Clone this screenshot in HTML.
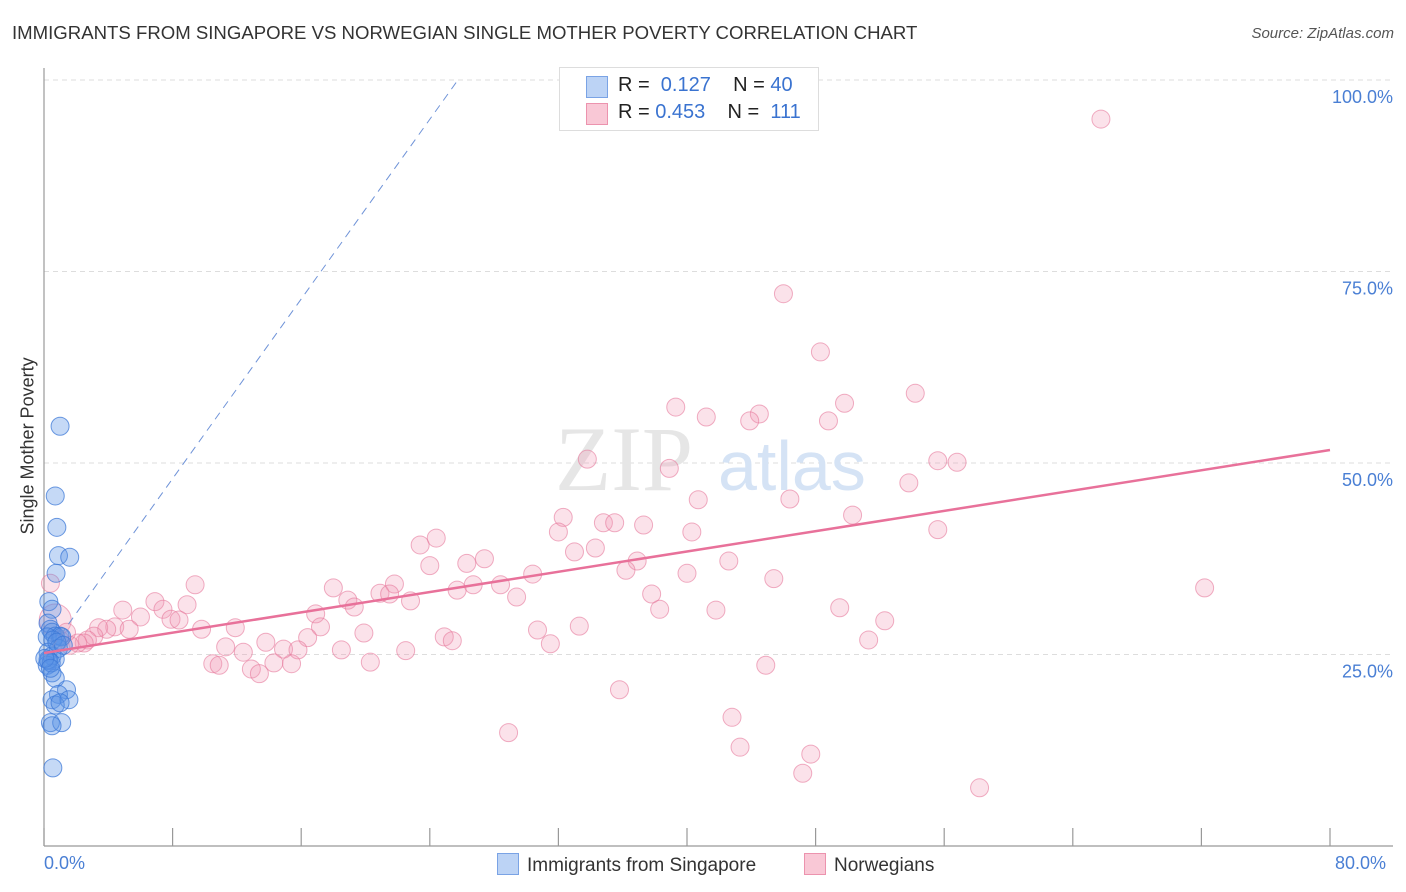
<!DOCTYPE html>
<html><head><meta charset="utf-8"><style>
body{margin:0;background:#fff;font-family:"Liberation Sans",sans-serif;}
#wrap{position:relative;width:1406px;height:892px;overflow:hidden;}
.t{position:absolute;white-space:nowrap;}
</style></head><body>
<div id="wrap">
<div class="t" style="left:12px;top:22px;font-size:18.6px;color:#333;">IMMIGRANTS FROM SINGAPORE VS NORWEGIAN SINGLE MOTHER POVERTY CORRELATION CHART</div>
<div class="t" style="right:12px;top:25px;font-size:15px;color:#555;font-style:italic;">Source: ZipAtlas.com</div>
<svg id="chart" width="1406" height="892" style="position:absolute;left:0;top:0"></svg>
</div>
<script>
const blueX=[1.0,0.7,0.8,0.9,1.6,0.75,0.3,0.5,0.25,0.4,0.5,0.7,1.0,0.2,1.1,0.55,0.9,0.25,0.5,0.7,0.3,0.2,0.5,0.7,1.4,0.9,0.5,1.55,0.7,1.0,0.4,1.1,0.5,0.55,0.25,0.45,0.05,0.4,0.8,1.2];
const blueY=[54.8,45.7,41.6,37.9,37.7,35.6,31.9,30.9,29.1,28.3,27.9,27.4,27.4,27.3,27.3,26.9,25.8,25.3,24.8,24.4,24.2,23.6,22.6,21.9,20.4,19.8,19.1,19.1,18.4,18.7,16.1,16.1,15.7,10.2,24.3,23.9,24.5,23.2,26.6,26.2];
const pinkX=[65.75,46.0,48.3,54.2,39.3,41.2,44.5,43.9,49.8,48.8,33.8,38.9,55.6,56.8,53.8,40.7,46.4,32.3,50.3,34.8,35.5,37.3,32.0,40.3,55.6,23.4,24.4,34.3,33.0,27.4,26.3,24.0,42.6,36.9,36.2,30.4,40.0,45.4,9.4,18.0,21.8,26.7,28.4,25.7,20.9,21.5,22.8,29.4,37.8,18.9,6.9,8.9,4.9,19.3,38.3,41.8,49.5,16.9,7.4,6.0,7.9,8.4,52.3,4.4,3.4,5.3,3.9,17.2,9.8,11.9,30.7,33.3,19.9,24.9,25.4,3.1,2.7,2.5,2.1,51.3,11.3,13.8,16.4,31.5,12.4,14.9,15.8,18.5,22.5,10.5,10.9,14.3,15.4,12.9,13.4,20.3,44.9,35.8,42.8,28.9,43.3,47.7,47.2,58.2,72.2,0.4,0.7,1.0,1.6,1.4];
const pinkY=[94.9,72.1,64.5,59.1,57.3,56.0,56.4,55.5,57.8,55.5,50.5,49.3,50.3,50.1,47.4,45.2,45.3,42.9,43.2,42.2,42.2,41.9,41.0,41.0,41.3,39.3,40.2,38.9,38.4,37.5,36.9,36.6,37.2,37.2,36.0,35.5,35.6,34.9,34.1,33.7,34.2,34.1,34.1,33.4,33.0,32.9,32.0,32.5,32.9,32.1,31.9,31.5,30.8,31.2,30.9,30.8,31.1,30.3,30.9,29.9,29.6,29.5,29.4,28.6,28.5,28.3,28.3,28.6,28.3,28.5,28.2,28.7,27.8,27.3,26.8,27.4,26.9,26.5,26.5,26.9,26.0,26.6,27.2,26.4,25.3,25.7,25.6,25.6,25.5,23.8,23.6,23.9,23.8,23.1,22.5,24.0,23.6,20.4,16.8,14.8,12.9,12.0,9.5,7.6,33.7,34.3,29.5,26.9,26.2,27.9];
const yTicks=[25,50,75,100];
const yTickLabels=["25.0%","50.0%","75.0%","100.0%"];
const xTicks=[0,8,16,24,32,40,48,56,64,72,80];
const pinkTrend=[[0,25.2],[80,51.7]];
const blueTrend=[[0,24.5],[25.75,100]];

const svg=document.getElementById('chart');
const NS='http://www.w3.org/2000/svg';
const X0=44,X1=1330,Y0=846,YS=7.66;
const sx=v=>X0+v*(X1-X0)/80;
const sy=v=>Y0-v*YS;
function mk(tag,attrs){const e=document.createElementNS(NS,tag);for(const k in attrs)e.setAttribute(k,attrs[k]);svg.appendChild(e);return e;}

yTicks.forEach((v,i)=>{
  const g=mk('line',{x1:X0,x2:1393,y1:sy(v),y2:sy(v),stroke:'#ddd','stroke-dasharray':'5,4','stroke-width':1});
  
  
  const t=mk('text',{x:1393,y:sy(v)+23,'text-anchor':'end','font-size':18,fill:'#4a7fd4','font-family':'Liberation Sans, sans-serif'});
  t.textContent=yTickLabels[i];
  
  
});
const ga=mk('line',{x1:X0,x2:X0,y1:68,y2:Y0,stroke:'#999','stroke-width':1.2});


const gx=mk('line',{x1:X0,x2:1393,y1:Y0,y2:Y0,stroke:'#999','stroke-width':1.2});


xTicks.forEach(v=>{
  const l=mk('line',{x1:sx(v),x2:sx(v),y1:828,y2:Y0,stroke:'#999','stroke-width':1.2});
  
  
});
const wm=mk('text',{x:555,y:490,'font-size':92,fill:'#e6e6e6','font-family':'Liberation Serif, serif'});
wm.textContent='ZIP';


const wm2=mk('text',{x:718,y:490,'font-size':70,fill:'#d5e3f5','font-family':'Liberation Sans, sans-serif'});
wm2.textContent='atlas';



pinkX.forEach((x,i)=>{
  const r=(i==106)?16:9;
  const c=mk('circle',{cx:sx(x),cy:sy(pinkY[i]),r:r,fill:'rgba(242,150,180,0.28)',stroke:'rgba(230,120,155,0.6)','stroke-width':1});
  
  
});
blueX.forEach((x,i)=>{
  const c=mk('circle',{cx:sx(x),cy:sy(blueY[i]),r:9,fill:'rgba(90,145,230,0.35)',stroke:'rgba(60,120,215,0.75)','stroke-width':1});
  
  
});
const bt=mk('line',{x1:sx(blueTrend[0][0]),y1:sy(blueTrend[0][1]),x2:sx(blueTrend[1][0]),y2:sy(blueTrend[1][1]),stroke:'#6f93d8','stroke-width':1,'stroke-dasharray':'8,6'});


const pt=mk('line',{x1:sx(pinkTrend[0][0]),y1:sy(pinkTrend[0][1]),x2:sx(pinkTrend[1][0]),y2:sy(pinkTrend[1][1]),stroke:'#e8719a','stroke-width':2.5});


</script>
<div class="t" style="left:-52px;top:444px;font-size:18px;color:#333;transform:rotate(-90deg);width:160px;text-align:center;">Single Mother Poverty</div>
<div class="t" style="left:44px;top:853px;font-size:18px;color:#4a7fd4;">0.0%</div>
<div class="t" style="left:1335px;top:853px;font-size:18px;color:#4a7fd4;">80.0%</div>
<div style="position:absolute;left:559px;top:67px;width:258px;height:62px;border:1px solid #ddd;background:#fff;font-size:20px;">
  <div style="position:absolute;left:26px;top:8px;width:20px;height:20px;background:#bcd3f5;border:1px solid #7aa3e5;"></div>
  <div class="t" style="left:58px;top:6px;color:#222;">R = &nbsp;<span style="color:#3a73d0">0.127</span>&nbsp;&nbsp;&nbsp; N = <span style="color:#3a73d0">40</span></div>
  <div style="position:absolute;left:26px;top:35px;width:20px;height:20px;background:#f9c8d6;border:1px solid #ec93ae;"></div>
  <div class="t" style="left:58px;top:33px;color:#222;">R = <span style="color:#3a73d0">0.453</span>&nbsp;&nbsp;&nbsp; N = &nbsp;<span style="color:#3a73d0">111</span></div>
</div>
<div style="position:absolute;left:497px;top:853px;font-size:19px;color:#333;">
  <span style="display:inline-block;width:20px;height:20px;background:#bcd3f5;border:1px solid #7aa3e5;vertical-align:-4px;margin-right:8px;"></span>Immigrants from Singapore</div>
<div style="position:absolute;left:804px;top:853px;font-size:19px;color:#333;">
  <span style="display:inline-block;width:20px;height:20px;background:#f9c8d6;border:1px solid #ec93ae;vertical-align:-4px;margin-right:8px;"></span>Norwegians</div>
</body></html>
